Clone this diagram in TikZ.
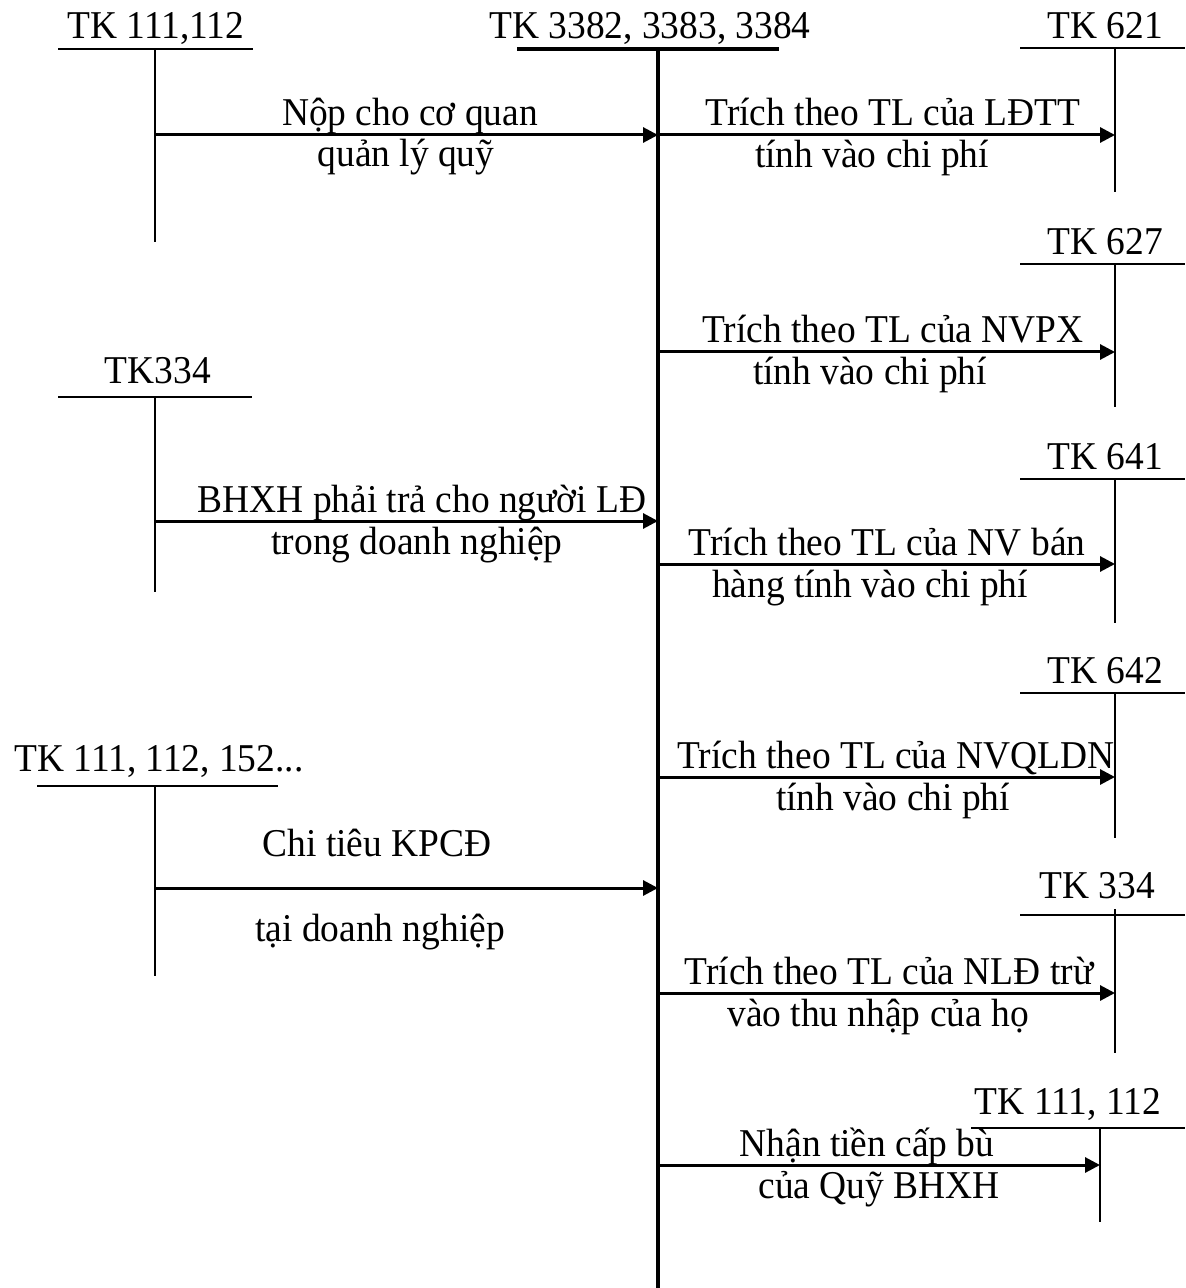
\documentclass[tikz,border=0pt]{standalone}
\usepackage{fontspec}
\setmainfont{Liberation Serif}[FakeStretch=0.95]
\usepackage{tikz}
\tikzset{x=.5pt,y=-.5pt}
\usetikzlibrary{arrows.meta}

\begin{document}
\begin{tikzpicture}[font=\fontsize{19.7}{22}\selectfont,
    txt/.style={anchor=base, inner sep=0pt},
    tline/.style={line width=1pt},
    main/.style={line width=2.2pt},
    flow/.style={line width=1.5pt, -{Triangle[length=7.5pt,width=7.5pt]}}]
\useasboundingbox (0,0) rectangle (1185,1288);
    % central account
    \node[txt] (tk338) at (650,39) {TK 3382, 3383, 3384};
    \coordinate (m0) at (517,49);
    \coordinate (m1) at (779,49);
    \coordinate (mtop) at (658,49);
    \coordinate (mbot) at (658,1288);
    \draw[main] (m0) -- (m1);
    \draw[main] (mtop) -- (mbot);
    \coordinate (in1) at (658,135);
    \coordinate (in2) at (658,521);
    \coordinate (in3) at (658,888);
    \coordinate (out1) at (658,135);
    \coordinate (out2) at (658,352);
    \coordinate (out3) at (658,564);
    \coordinate (out4) at (658,777);
    \coordinate (out5) at (658,993);
    \coordinate (out6) at (658,1165);

    % left accounts
    \node[txt] (tk111) at (156,39) {TK 111,112};
    \draw[tline] (58,49) coordinate (l1a) -- (253,49) coordinate (l1b);
    \draw[tline] (155,49) coordinate (l1top) -- (155,242) coordinate (l1bot);
    \coordinate (s1) at (155,135);
    \draw[flow] (s1) -- (in1);
    \node[txt] (n1a) at (410,126) {Nộp cho cơ quan};
    \node[txt] (n1b) at (406,167) {quản lý quỹ};

    \node[txt] (tk334l) at (158,384) {TK334};
    \draw[tline] (58,397) coordinate (l2a) -- (252,397) coordinate (l2b);
    \draw[tline] (155,397) coordinate (l2top) -- (155,592) coordinate (l2bot);
    \coordinate (s2) at (155,521);
    \draw[flow] (s2) -- (in2);
    \node[txt] (n2a) at (422,512) {BHXH phải trả cho người LĐ};
    \node[txt] (n2b) at (417,554) {trong doanh nghiệp};

    \node[txt] (tk152) at (159,771) {TK 111, 112, 152...};
    \draw[tline] (37,786) coordinate (l3a) -- (278,786) coordinate (l3b);
    \draw[tline] (155,786) coordinate (l3top) -- (155,976) coordinate (l3bot);
    \coordinate (s3) at (155,888);
    \draw[flow] (s3) -- (in3);
    \node[txt] (n3a) at (377,856) {Chi tiêu KPCĐ};
    \node[txt] (n3b) at (380,941) {tại doanh nghiệp};

    % right accounts
    \node[txt] (tk621) at (1105,39) {TK 621};
    \draw[tline] (1020,48) -- (1185,48);
    \draw[tline] (1115,48) -- (1115,192);
    \coordinate (e1) at (1115,135);
    \draw[flow] (out1) -- (e1);
    \node[txt] (r1a) at (893,126) {Trích theo TL của LĐTT};
    \node[txt] (r1b) at (872,168) {tính vào chi phí};

    \node[txt] (tk627) at (1105,255) {TK 627};
    \draw[tline] (1020,264) -- (1185,264);
    \draw[tline] (1115,264) -- (1115,407);
    \coordinate (e2) at (1115,352);
    \draw[flow] (out2) -- (e2);
    \node[txt] (r2a) at (893,343) {Trích theo TL của NVPX};
    \node[txt] (r2b) at (870,385) {tính vào chi phí};

    \node[txt] (tk641) at (1105,469) {TK 641};
    \draw[tline] (1020,479) -- (1185,479);
    \draw[tline] (1115,479) -- (1115,623);
    \coordinate (e3) at (1115,564);
    \draw[flow] (out3) -- (e3);
    \node[txt] (r3a) at (887,555) {Trích theo TL của NV bán};
    \node[txt] (r3b) at (870,597) {hàng tính vào chi phí};

    \node[txt] (tk642) at (1105,683) {TK 642};
    \draw[tline] (1020,693) -- (1185,693);
    \draw[tline] (1115,693) -- (1115,838);
    \coordinate (e4) at (1115,777);
    \draw[flow] (out4) -- (e4);
    \node[txt] (r4a) at (896,768) {Trích theo TL của NVQLDN};
    \node[txt] (r4b) at (893,810) {tính vào chi phí};

    \node[txt] (tk334r) at (1097,898) {TK 334};
    \draw[tline] (1020,915) -- (1185,915);
    \draw[tline] (1115,909) -- (1115,1053);
    \coordinate (e5) at (1115,993);
    \draw[flow] (out5) -- (e5);
    \node[txt] (r5a) at (889,984) {Trích theo TL của NLĐ trừ};
    \node[txt] (r5b) at (878,1026) {vào thu nhập của họ};

    \node[txt] (tk111r) at (1068,1114) {TK 111, 112};
    \draw[tline] (971,1128) -- (1185,1128);
    \draw[tline] (1100,1128) -- (1100,1222);
    \coordinate (e6) at (1100,1165);
    \draw[flow] (out6) -- (e6);
    \node[txt] (r6a) at (867,1156) {Nhận tiền cấp bù};
    \node[txt] (r6b) at (879,1198) {của Quỹ BHXH};
\end{tikzpicture}
\end{document}
